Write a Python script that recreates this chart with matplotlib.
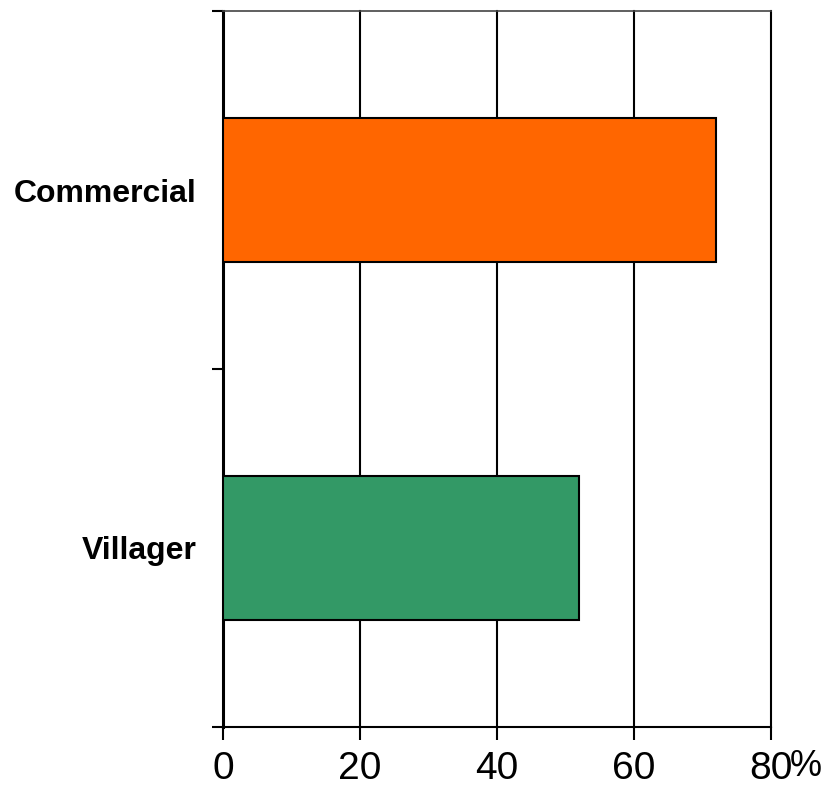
import numpy as np
import matplotlib.pyplot as plt
from matplotlib.transforms import offset_copy

# data
categories = ['Villager', 'Commercial']
values = [52, 72]
colors = ['#339966', '#FF6600']
x_ticks = [0, 20, 40, 60, 80]
x_labels = ['0', '20', '40', '60', '80']

plt.rcParams['font.family'] = ['Liberation Sans', 'DejaVu Sans']

fig = plt.figure(figsize=(8.27, 7.91), dpi=100)
ax = fig.add_axes([223 / 827, 1 - 727 / 791, (771 - 223) / 827, (727 - 11) / 791])

y = np.arange(len(categories))
ax.barh(y, values, height=0.4, color=colors, edgecolor='black', linewidth=1.5, zorder=3)

ax.set_xlim(0, 80)
ax.set_ylim(-0.5, len(categories) - 0.5)

# vertical gridlines
for xv in x_ticks[1:]:
    ax.axvline(xv, color='black', linewidth=1.5, zorder=1, clip_on=False)

ax.set_xticks(x_ticks)
ax.set_xticklabels(x_labels, fontsize=28)
ax.tick_params(axis='x', direction='out', length=9, width=1.5, pad=8)

# percent sign after the last tick label
ax.text(82.8, -0.5, '%', fontsize=26, ha='left', va='top', clip_on=False,
        transform=offset_copy(ax.transData, fig=fig, x=0, y=-16, units='points'))

# category boundaries as major ticks, names as minor ticks
ax.set_yticks(np.arange(-0.5, len(categories), 1.0))
ax.set_yticklabels([])
ax.set_yticks(y, minor=True)
ax.set_yticklabels(categories, minor=True, fontsize=23, fontweight='bold')
ax.tick_params(axis='y', which='major', direction='out', length=8, width=1.5)
ax.tick_params(axis='y', which='minor', length=0, pad=19)

ax.spines['right'].set_visible(False)
ax.spines['top'].set_color('#444444')
ax.spines['top'].set_linewidth(1.2)
ax.spines['left'].set_linewidth(2.2)
ax.spines['bottom'].set_linewidth(1.5)

fig.savefig('out.png', dpi=100)
